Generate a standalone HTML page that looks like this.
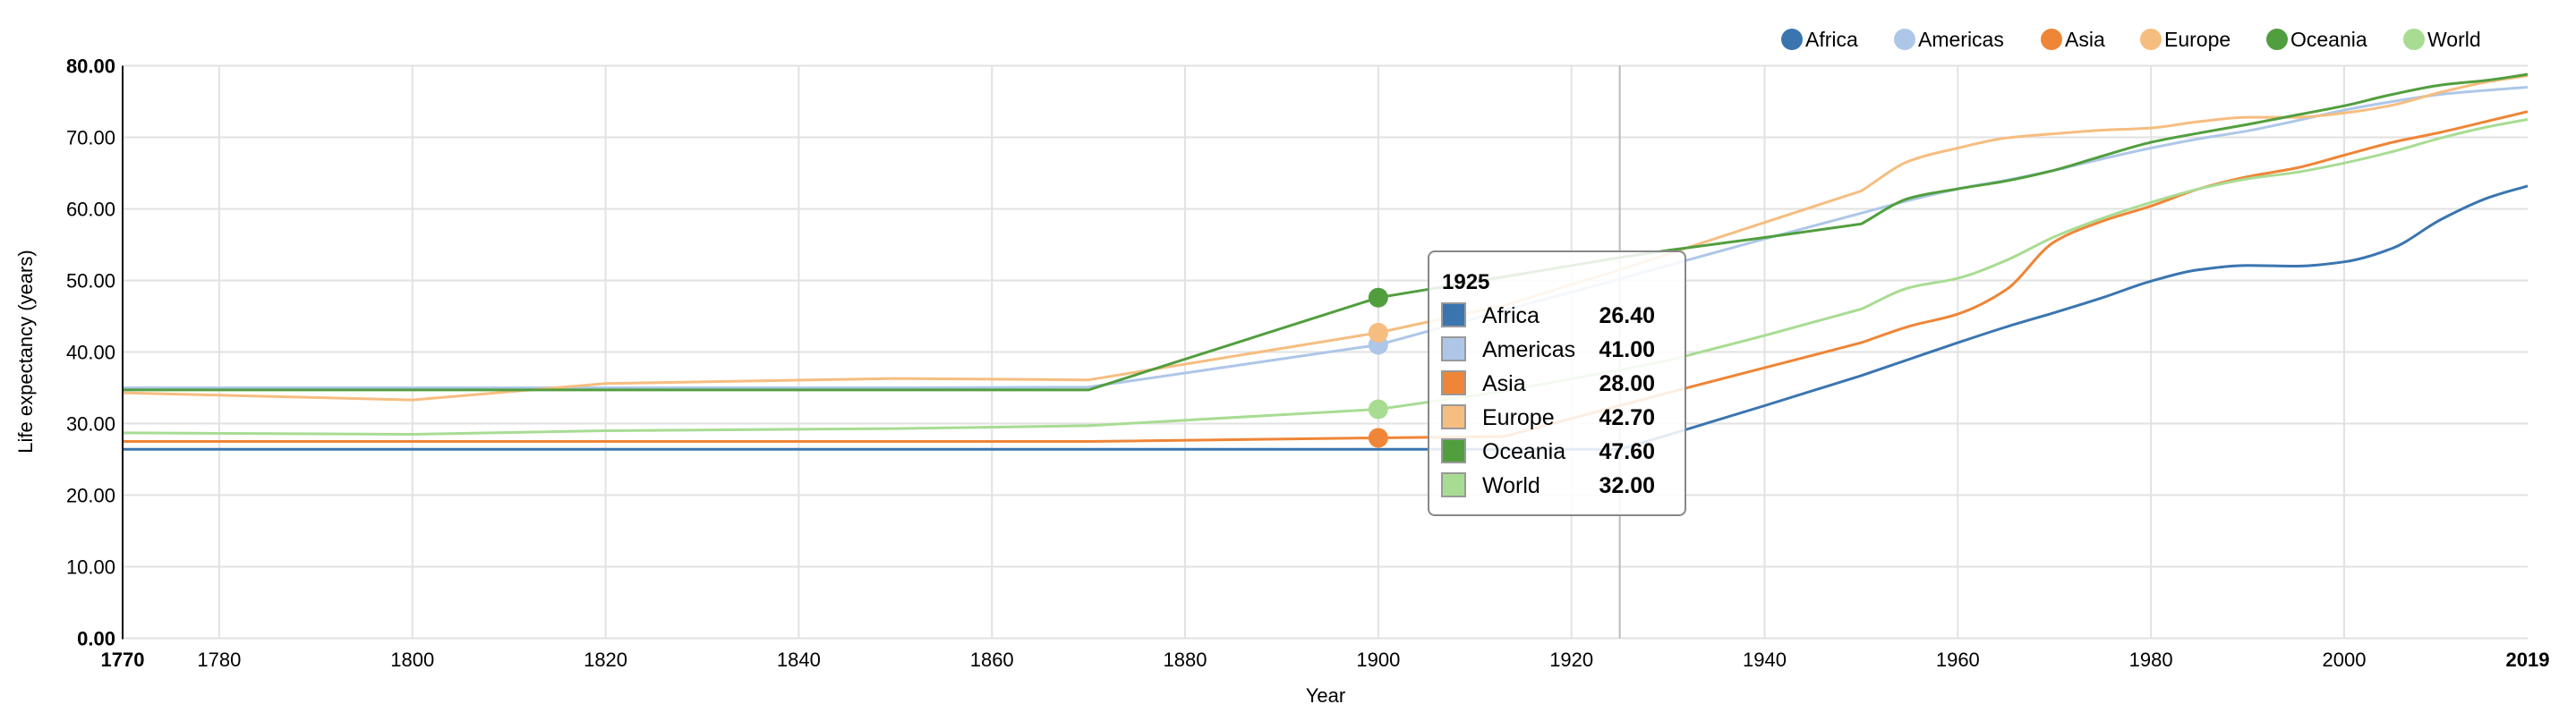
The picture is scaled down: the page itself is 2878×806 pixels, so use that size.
<!DOCTYPE html>
<html><head><meta charset="utf-8"><style>
html,body{margin:0;padding:0;background:#fff;}
svg{display:block;font-family:"Liberation Sans",Arial,sans-serif;}
</style></head><body>
<svg id="chart" width="2878" height="806" viewBox="0 0 2878 806">
<g id="grid"></g>
<g id="lines"></g>
<g id="axes"></g>
<g id="legend"></g>
<g id="tip"></g>
</svg>
<script>
const years = [1770,1800,1820,1850,1870,1900,1913,1925,1930,1940,1950,1955,1960,1965,1970,1975,1980,1985,1990,1995,2000,2005,2010,2015,2019];
const seriesNames = ["Africa","Americas","Asia","Europe","Oceania","World"];
const seriesColors = ["#3a75b0","#aec7e8","#ef8536","#f6bd80","#519e3e","#a8dc93"];
const africa = [26.4,26.4,26.4,26.4,26.4,26.4,26.4,26.4,28.4,32.5,36.7,39,41.3,43.5,45.5,47.6,49.9,51.5,52.1,52,52.6,54.5,58.5,61.6,63.2];
const americas = [35,35,35,35,35.1,41,45.8,50.2,52.1,55.8,59.4,61.2,62.8,64,65.4,67,68.5,69.8,70.9,72.3,73.8,75,76,76.6,77];
const asia = [27.5,27.5,27.5,27.5,27.5,28,28.2,32.5,34.3,37.8,41.3,43.6,45.3,48.7,55.4,58.3,60.4,62.8,64.5,65.7,67.5,69.3,70.7,72.3,73.6];
const europe = [34.3,33.3,35.6,36.3,36.1,42.7,46.5,51.5,53.7,58.1,62.5,66.7,68.5,69.9,70.5,71,71.3,72.2,72.8,72.8,73.4,74.5,76.3,77.8,78.6];
const oceania = [34.7,34.7,34.7,34.7,34.7,47.6,50.5,53.2,54.2,56,57.9,61.5,62.8,63.9,65.4,67.4,69.3,70.6,71.8,73.1,74.4,76,77.3,78,78.8];
const world = [28.7,28.5,29,29.3,29.7,32,34.5,37.5,38.8,42.3,46,49,50.3,52.8,56.1,58.7,60.9,62.8,64.2,65.1,66.4,68,69.9,71.5,72.5];
const xTicks = [1770,1780,1800,1820,1840,1860,1880,1900,1920,1940,1960,1980,2000,2019];
const yTicks = [0,10,20,30,40,50,60,70,80];
const markerYear = 1900;
const hoverYear = 1925;
const tipValues = ["26.40","41.00","28.00","42.70","47.60","32.00"];

const NS="http://www.w3.org/2000/svg";
const L=137,R=2824,T=73.5,B=713.5;
const x=v=>L+(v-1770)/(2019-1770)*(R-L);
const y=v=>B-v/80*(B-T);
function mk(tag,attrs,parent){const e=document.createElementNS(NS,tag);for(const k in attrs)e.setAttribute(k,attrs[k]);parent.appendChild(e);return e;}
const grid=document.getElementById('grid'),lines=document.getElementById('lines'),axes=document.getElementById('axes'),legend=document.getElementById('legend'),tip=document.getElementById('tip');

yTicks.forEach(t=>{
  const g=mk('line',{x1:L,x2:R,y1:y(t),y2:y(t),stroke:'#e2e2e2','stroke-width':2},grid);
  
  
  const tx=mk('text',{x:L-8,y:y(t)+8,'text-anchor':'end','font-size':22,'font-weight':(t===0||t===80)?'bold':'normal',fill:'#000'},axes);
  tx.textContent=t.toFixed(2);
  
  
});
xTicks.forEach(t=>{
  if(t!==1770&&t!==2019){
    const g=mk('line',{x1:x(t),x2:x(t),y1:T,y2:B,stroke:'#e2e2e2','stroke-width':2},grid);
    
    
  }
  const edge=(t===1770||t===2019);
  const tx=mk('text',{x:x(t),y:745,'text-anchor':'middle','font-size':22,'font-weight':edge?'bold':'normal',fill:'#000'},axes);
  tx.textContent=t;
  
  
});
const hl=mk('line',{x1:x(hoverYear),x2:x(hoverYear),y1:T,y2:B,stroke:'#bbb','stroke-width':2},grid);


const ax=mk('line',{x1:L,x2:L,y1:T,y2:B+1,stroke:'#000','stroke-width':2},axes);


const xt=mk('text',{x:1481,y:785,'text-anchor':'middle','font-size':22},axes);
xt.textContent='Year';


const yt=mk('text',{x:0,y:0,'text-anchor':'middle','font-size':22,transform:'translate(36,393) rotate(-90)'},axes);
yt.textContent='Life expectancy (years)';



// linear up to 1950, monotone cubic afterwards
function pathFor(xs,ys,years){
  const n=xs.length,d=[],m=[];
  for(let i=0;i<n-1;i++)d.push((ys[i+1]-ys[i])/(xs[i+1]-xs[i]));
  m[0]=d[0];m[n-1]=d[n-2];
  for(let i=1;i<n-1;i++){
    if(d[i-1]*d[i]<=0)m[i]=0;
    else{const h0=xs[i]-xs[i-1],h1=xs[i+1]-xs[i];m[i]=3*(h0+h1)/((2*h1+h0)/d[i-1]+(h1+2*h0)/d[i]);}
  }
  let p=`M${xs[0]},${ys[0]}`;
  for(let i=0;i<n-1;i++){
    if(years[i+1]<=1950){p+=`L${xs[i+1]},${ys[i+1]}`;continue;}
    const h=(xs[i+1]-xs[i])/3;
    const m0=years[i]<=1950?d[i]:m[i];
    p+=`C${xs[i]+h},${ys[i]+m0*h} ${xs[i+1]-h},${ys[i+1]-m[i+1]*h} ${xs[i+1]},${ys[i+1]}`;
  }
  return p;
}
const allSeries=[africa,americas,asia,europe,oceania,world];
const px=years.map(x);
allSeries.forEach((s,i)=>{
  const p=mk('path',{d:pathFor(px,s.map(y),years),fill:'none',stroke:seriesColors[i],'stroke-width':3,'stroke-linejoin':'round'},lines);
  
  
});
const mi=years.indexOf(markerYear);
allSeries.forEach((s,i)=>{
  if(i===0)return;
  const c=mk('circle',{cx:x(markerYear),cy:y(s[mi]),r:11,fill:seriesColors[i]},lines);
  
  
});

const legendX=[2002,2128,2292,2403,2544,2697];
seriesNames.forEach((n,i)=>{
  const g=mk('g',{},legend);
  
  
  mk('circle',{cx:legendX[i],cy:44,r:12,fill:seriesColors[i]},g);
  const t=mk('text',{x:legendX[i]+15,y:52,'font-size':23},g);t.textContent=n;
});

const box=mk('rect',{x:1596,y:281,width:287,height:295,rx:7,fill:'#fff','fill-opacity':0.86,stroke:'#888','stroke-width':2},tip);


const tt=mk('text',{x:1611,y:323,'font-size':24,'font-weight':'bold'},tip);
tt.textContent=hoverYear;


seriesNames.forEach((n,i)=>{
  const cy=352+i*38;
  const g=mk('g',{},tip);
  
  
  mk('rect',{x:1611,y:cy-13,width:26,height:26,fill:seriesColors[i],stroke:'#999','stroke-width':2},g);
  const a=mk('text',{x:1656,y:cy+9,'font-size':25},g);a.textContent=n;
  const b=mk('text',{x:1849,y:cy+9,'font-size':25,'font-weight':'bold','text-anchor':'end'},g);b.textContent=tipValues[i];
});
</script>
</body></html>
